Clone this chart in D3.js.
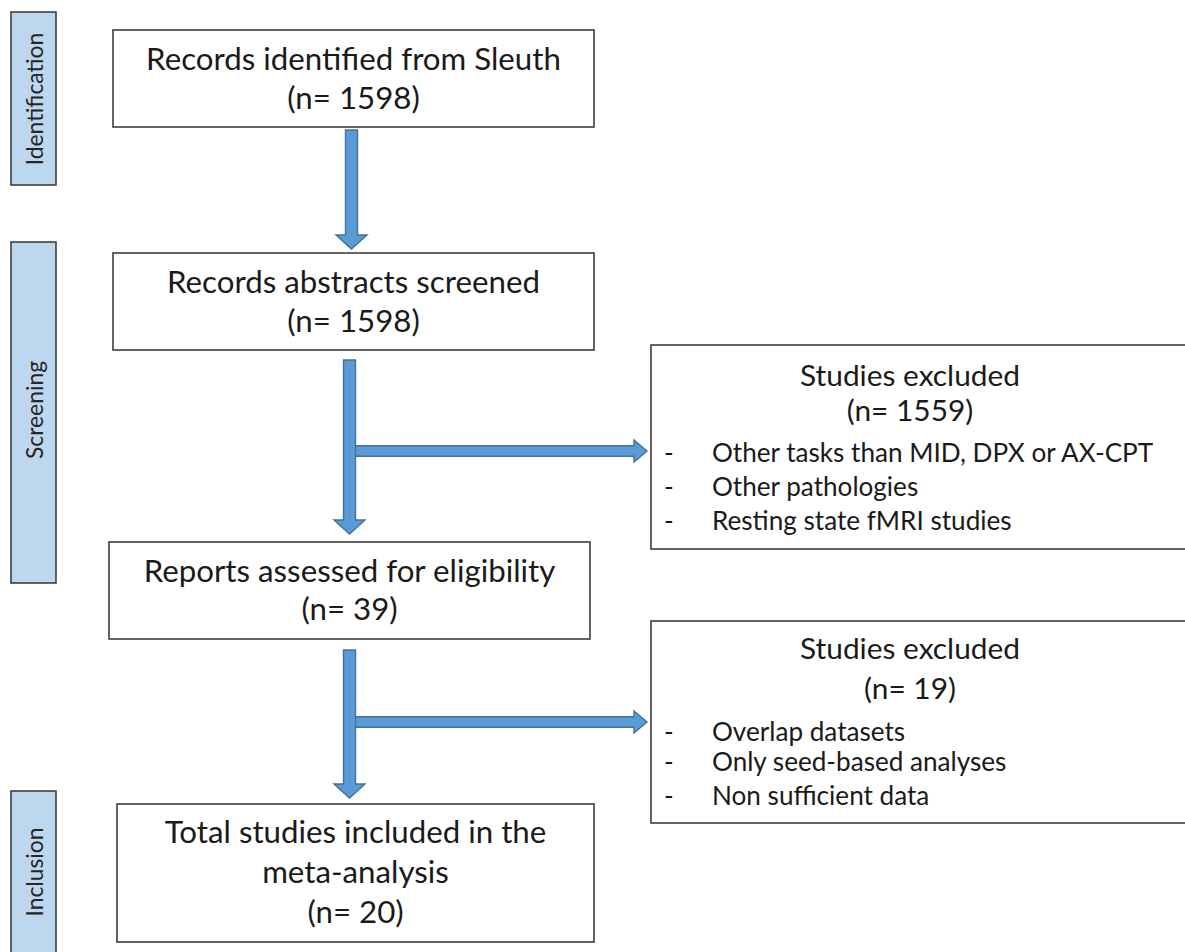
<!DOCTYPE html>
<html><head><meta charset="utf-8">
<script src="https://cdn.jsdelivr.net/npm/d3@7"></script>
<style>html,body{margin:0;padding:0;background:#fff;overflow:hidden}</style>
</head><body><svg id="c" width="1185" height="952"></svg>
<script>
// ---------------- data ----------------
const stageLabels = ["Identification", "Screening", "Inclusion"];
const stepLines = [
  ["Records identified from Sleuth"],
  ["Records abstracts screened"],
  ["Reports assessed for eligibility"],
  ["Total studies included in the", "meta-analysis"]
];
const stepCounts = [1598, 1598, 39, 20];
const excludedTitles = ["Studies excluded", "Studies excluded"];
const excludedCounts = [1559, 19];
const excludedReasons = [
  ["Other tasks than MID, DPX or AX-CPT", "Other pathologies", "Resting state fMRI studies"],
  ["Overlap datasets", "Only seed-based analyses", "Non sufficient data"]
];

// ---------------- layout ----------------
const stageBoxes = [
  {x: 11, y: 12, w: 45, h: 173, ty: 99},
  {x: 11, y: 242, w: 45, h: 341, ty: 410},
  {x: 11, y: 791, w: 45, h: 200, ty: 872}
];
const stepBoxes = [
  {x: 113, y: 30, w: 481, h: 97, base: [70, 109]},
  {x: 113, y: 253, w: 481, h: 97, base: [293, 332]},
  {x: 109, y: 542, w: 481, h: 97, base: [582, 620]},
  {x: 117, y: 804, w: 477, h: 138, base: [843, 883, 923]}
];
const exBoxes = [
  {x: 651, y: 345, w: 560, h: 204, cx: 910, base: [386, 421], items: [462, 496, 530]},
  {x: 651, y: 621, w: 560, h: 202, cx: 910, base: [659, 699], items: [741, 771, 805]}
];
const vArrows = [
  {cx: 351.5, y0: 130, tip: 249},
  {cx: 349.5, y0: 360, tip: 534},
  {cx: 349.5, y0: 650, tip: 798}
];
const hArrows = [
  {x0: 350, cy: 451, tip: 647},
  {x0: 350, cy: 722, tip: 647}
];

const svg = d3.select("#c");
const FONT = "Lato, 'Open Sans', sans-serif";
const probe = svg.append("text").style("font-family", FONT).style("font-size", "100px")
  .text("Records identified from Sleuth");
const w100 = probe.node().getComputedTextLength();
probe.remove();
const f = w100 / (100 * 12.383); // Lato width relative to Calibri metrics
const fs = c => (c / f).toFixed(2) + "px";

const TEXT = "#1a1a1a", BORDER = "#3f3f3f";
const FILL = "#5b9bd5", ASTROKE = "#41719c";

// stage labels
const sg = svg.append("g");
sg.selectAll("rect").data(stageBoxes).join("rect")
  .attr("x", d => d.x).attr("y", d => d.y).attr("width", d => d.w).attr("height", d => d.h)
  .attr("fill", "#bdd7ee").attr("stroke", BORDER).attr("stroke-width", 1.6);
sg.selectAll("text").data(stageBoxes).join("text")
  .attr("transform", d => `translate(${d.x + d.w / 2},${d.ty}) rotate(-90)`)
  .attr("text-anchor", "middle").attr("dominant-baseline", "central")
  .style("font-family", FONT).style("font-size", fs(24.5)).attr("fill", "#262626")
  .text((d, i) => stageLabels[i]);

// arrows
function vPath(a, sw, hw, hl) {
  const l = a.cx - sw / 2, r = a.cx + sw / 2, hb = a.tip - hl;
  return `M${l},${a.y0}L${r},${a.y0}L${r},${hb}L${a.cx + hw / 2},${hb}L${a.cx},${a.tip}L${a.cx - hw / 2},${hb}L${l},${hb}Z`;
}
function hPath(a, sw, hw, hl) {
  const t = a.cy - sw / 2, b = a.cy + sw / 2, hb = a.tip - hl;
  return `M${a.x0},${t}L${hb},${t}L${hb},${a.cy - hw / 2}L${a.tip},${a.cy}L${hb},${a.cy + hw / 2}L${hb},${b}L${a.x0},${b}Z`;
}
const ag = svg.append("g");
ag.selectAll("path.h").data(hArrows).join("path").attr("class", "h")
  .attr("d", d => hPath(d, 10.5, 22, 13))
  .attr("fill", FILL).attr("stroke", ASTROKE).attr("stroke-width", 1.4);
ag.selectAll("path.v").data(vArrows).join("path").attr("class", "v")
  .attr("d", d => vPath(d, 12, 31, 14))
  .attr("fill", FILL).attr("stroke", ASTROKE).attr("stroke-width", 1.4);

// main step boxes
const mg = svg.append("g");
stepBoxes.forEach((b, i) => {
  mg.append("rect").attr("x", b.x).attr("y", b.y).attr("width", b.w).attr("height", b.h)
    .attr("fill", "#fff").attr("stroke", BORDER).attr("stroke-width", 1.6);
  const lines = stepLines[i].concat([`(n= ${stepCounts[i]})`]);
  mg.selectAll(null).data(lines).join("text")
    .attr("x", b.x + b.w / 2).attr("y", (d, j) => b.base[j])
    .attr("text-anchor", "middle")
    .style("font-family", FONT).style("font-size", fs(33.5)).attr("fill", TEXT)
    .text(d => d);
});

// excluded boxes
const eg = svg.append("g");
exBoxes.forEach((b, i) => {
  eg.append("rect").attr("x", b.x).attr("y", b.y).attr("width", b.w).attr("height", b.h)
    .attr("fill", "#fff").attr("stroke", BORDER).attr("stroke-width", 1.6);
  const head = [excludedTitles[i], `(n= ${excludedCounts[i]})`];
  eg.selectAll(null).data(head).join("text")
    .attr("x", b.cx).attr("y", (d, j) => b.base[j])
    .attr("text-anchor", "middle")
    .style("font-family", FONT).style("font-size", fs(32)).attr("fill", TEXT)
    .text(d => d);
  eg.selectAll(null).data(excludedReasons[i]).join("text")
    .attr("x", 664).attr("y", (d, j) => b.items[j])
    .style("font-family", FONT).style("font-size", fs(28)).attr("fill", TEXT)
    .text("-");
  eg.selectAll(null).data(excludedReasons[i]).join("text")
    .attr("x", 712).attr("y", (d, j) => b.items[j])
    .style("font-family", FONT).style("font-size", fs(28)).attr("fill", TEXT)
    .text(d => d);
});
</script>
</body></html>
